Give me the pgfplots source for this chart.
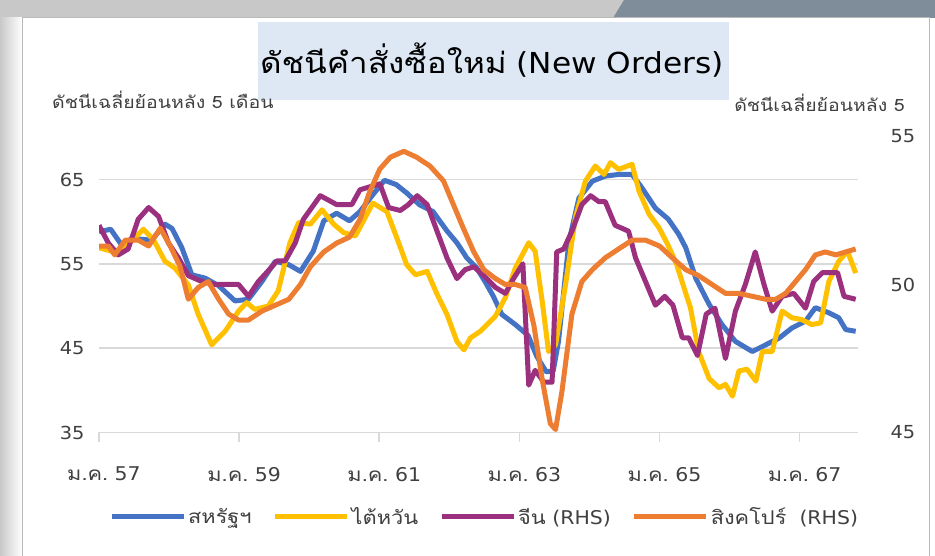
\documentclass[border=0pt]{standalone}
\usepackage{pgfplots}
\usepackage{pgfplotstable}
\pgfplotsset{compat=1.18}
\usepackage{fontspec}
\setmainfont[FakeStretch=1.08]{DejaVu Sans}
\newfontfamily\thai[Script=Thai, FakeStretch=1.15]{Loma}
\definecolor{cblue}{HTML}{4472C4}
\definecolor{cyellow}{HTML}{FFC000}
\definecolor{cpurple}{HTML}{9B307F}
\definecolor{corange}{HTML}{ED7D31}
\definecolor{gridc}{HTML}{D9D9D9}
\definecolor{txt}{HTML}{404040}
\definecolor{titlebg}{HTML}{DDE8F4}
\definecolor{frameg}{HTML}{C8C8C8}
\definecolor{slate}{HTML}{7F8C99}

% US (left axis)
\pgfplotstableread{
m v
0 58.8
2 59.1
3.9 57.2
5.6 58.0
7.5 57.9
9 57.8
11.3 59.7
12.5 59.2
14.2 56.9
15.9 53.7
18.2 53.3
20.5 52.4
23.3 50.6
25.6 50.8
27.9 52.9
30.2 55.3
32.5 54.9
34.5 54.1
36.7 56.5
38.5 60.1
40.7 61.0
42.9 60.1
44.7 61.2
46.9 63.2
48.9 64.9
50.9 64.4
52.7 63.4
54.9 62.0
57.2 61.2
59.6 58.9
61.3 57.5
63.0 55.7
64.7 54.5
66.2 52.8
67.5 51.2
69 49.0
71.3 47.8
73.5 46.5
75 44.0
76.6 42.2
77.8 42.3
78.7 45.8
80.5 57.7
82.2 62.8
84.5 64.8
86.7 65.4
89 65.6
91.3 65.6
93 64.0
95.3 61.6
97.5 60.3
99.3 58.5
100.5 56.9
102.2 53.3
104.5 50.2
106.7 47.8
109 45.8
111.9 44.6
114.2 45.4
116.5 46.2
118.7 47.4
121 48.2
122.7 49.8
125 49.2
126.7 48.6
127.9 47.2
129.6 47.0
}\usdata

% Taiwan (left axis)
\pgfplotstableread{
m v
0 56.9
2.2 56.5
3.9 56.7
5.6 57.7
7.6 59.1
9.3 57.9
11.3 55.3
13 54.5
15.3 52.5
17 49.0
19.3 45.4
21.6 47.0
23.9 49.4
25.3 50.4
26.7 49.6
29 50.0
30.7 51.8
32.7 57.5
34.2 59.9
36.2 59.7
38.2 61.4
40.2 59.7
41.9 58.7
43.9 58.3
45.3 60.1
46.9 62.2
49.3 61.2
51 58.1
52.7 54.9
54.2 53.7
56.2 54.1
57.9 51.4
59.6 49.0
61.3 45.8
62.5 44.8
63.6 46.2
65.3 47.0
67.9 48.8
69.6 51.0
71.3 54.5
73.6 57.5
74.7 56.5
75.9 50.6
77 44.6
78.2 45.4
79.9 52.5
81.6 60.5
83.3 64.8
85 66.6
86.5 65.6
87.6 67.0
89 66.2
91.3 66.8
92.5 63.6
94.2 60.9
95.9 59.3
97.4 57.3
98.9 55.0
100.5 51.5
101.3 49.8
102.7 44.6
104.5 41.4
106.2 40.3
107.3 40.7
108.5 39.3
109.6 42.3
111 42.5
112.5 41.1
113.6 44.6
115.3 44.6
117 49.4
118.7 48.6
120.3 48.4
122.1 47.8
123.6 48.0
125 52.9
126.7 55.3
128.2 56.5
129.6 53.9
}\twdata

% China (right axis)
\pgfplotstableread{
m v
0 52.0
1.6 51.4
3.3 51.0
5 51.2
6.7 52.2
8.5 52.6
10.2 52.3
11.9 51.4
13.6 50.9
15.3 50.3
17.6 50.1
19.9 50.0
22.2 50.0
23.9 50.0
25.6 49.6
27.3 50.1
28.7 50.4
30.5 50.8
31.9 50.8
33.6 51.4
35 52.2
37.9 53.0
40.7 52.7
43.3 52.7
44.7 53.2
46.4 53.3
48.1 53.4
49.6 52.6
51.6 52.5
53 52.7
54.5 53.0
56.2 52.7
57.9 51.8
59.6 50.9
61.3 50.2
62.7 50.5
64.2 50.6
65.9 50.3
67.9 49.9
69.6 49.7
71 50.2
72.6 50.7
73.6 46.6
74.7 47.1
76.2 46.7
77.6 46.7
78.4 51.1
79.6 51.2
81 51.8
82.7 52.7
84.2 53.0
85.6 52.8
86.7 52.8
88.4 52.0
90.7 51.8
91.9 50.9
93.6 50.1
95.3 49.3
96.9 49.6
98.3 49.3
99.9 48.2
101 48.2
102.5 47.6
104 49.0
105.5 49.2
107.3 47.5
109 49.1
110.7 50.0
112.4 51.1
113.9 50.0
115.3 49.1
117 49.6
119 49.7
121 49.2
122.4 50.1
123.9 50.4
126.5 50.4
127.6 49.6
129.6 49.5
}\cndata

% Singapore (right axis)
\pgfplotstableread{
m v
0 51.3
1.6 51.3
2.7 51.0
4.5 51.5
6.7 51.5
8.5 51.3
10.5 51.9
12.2 51.3
13.9 50.6
15.3 49.5
17 49.9
18.7 50.1
20.5 49.5
22.2 49.0
23.9 48.8
25.6 48.8
27.9 49.1
30.2 49.3
32.5 49.5
34.5 50.0
36.2 50.6
38.5 51.1
40.7 51.4
42.9 51.6
44.7 52.2
46.3 53.1
48.1 53.9
49.9 54.3
52.2 54.5
54.4 54.3
56.7 54.0
59 53.5
60.7 52.7
62.4 51.9
64.2 51.1
65.9 50.5
67.9 50.2
69.6 50.0
71.3 50.0
73 49.9
74.5 48.6
75.9 46.8
77.3 45.3
78.2 45.1
79.3 46.4
81 49.0
82.7 50.1
84.5 50.5
86.7 50.9
89 51.2
91.3 51.5
93.6 51.5
96 51.3
98.2 50.9
100.5 50.5
102.7 50.3
105 50.0
107.3 49.7
109.6 49.7
111.9 49.6
114.2 49.5
115.9 49.5
117.6 49.7
119.3 50.1
121 50.5
122.7 51.0
124.4 51.1
126.2 51.0
127.9 51.1
129.6 51.2
}\sgdata

\begin{document}
\begin{tikzpicture}[x=1bp,y=1bp]
\useasboundingbox (0,0) rectangle (935,556);
\fill[white] (0,0) rectangle (935,556);
\fill[frameg] (0,538) rectangle (935,556);
\fill[slate] (613,538) -- (624,556) -- (935,556) -- (935,538) -- cycle;
\shade[left color=frameg, right color=white] (0,0) rectangle (22,538);
\draw[gray!55, line width=1bp] (22,0) -- (22,538) -- (929,538) -- (929,0);
\fill[titlebg] (258,456) rectangle (729,534);
\node[font=\fontsize{29}{30}\selectfont, text=black] at (492,496) {{\thai ดัชนีคำสั่งซื้อใหม่} (New Orders)};
\node[anchor=west, text=txt, font=\fontsize{17}{18}\selectfont\thai, inner sep=0pt] at (52,456) {ดัชนีเฉลี่ยย้อนหลัง 5 เดือน};
\node[anchor=east, text=txt, font=\fontsize{17}{18}\selectfont\thai, inner sep=0pt] at (905,453) {ดัชนีเฉลี่ยย้อนหลัง 5};

\begin{axis}[
  at={(99bp,123.5bp)}, anchor=south west, scale only axis,
  width=759bp, height=296bp,
  xmin=0, xmax=130, ymin=35, ymax=70.1,
  axis x line*=bottom, axis y line*=left,
  y axis line style={draw=none},
  x axis line style={draw=gridc, line width=1.6bp, -},
  xtick={0,24,48,72,96,120},
  xticklabels={{\thai ม.ค.}~57,{\thai ม.ค.}~59,{\thai ม.ค.}~61,{\thai ม.ค.}~63,{\thai ม.ค.}~65,{\thai ม.ค.}~67},
  ytick={35,45,55,65},
  ymajorgrids, grid style={draw=gridc, line width=1.8bp},
  xtick style={draw=gridc, line width=1.6bp},
  ytick style={draw=none},
  tick align=outside, major tick length=10bp,
  tick label style={text=txt, font=\fontsize{18}{18}\selectfont},
  /pgf/number format/assume math mode=true,
  yticklabel style={xshift=-1bp},
  xticklabel style={yshift=-21bp, font=\fontsize{19}{19}\selectfont, xshift=5bp},
  every axis plot/.append style={line width=5bp, line join=round},
]
\addplot[cblue, no marks] table[x=m,y=v] {\usdata};
\addplot[cyellow, no marks] table[x=m,y=v] {\twdata};
\end{axis}

\begin{axis}[
  at={(99bp,123.5bp)}, anchor=south west, scale only axis,
  width=759bp, height=296bp,
  xmin=0, xmax=130, ymin=45, ymax=55,
  axis x line=none, axis y line*=right,
  y axis line style={draw=none}, ytick style={draw=none},
  ytick={45,50,55},
  tick label style={text=txt, font=\fontsize{18}{18}\selectfont},
  /pgf/number format/assume math mode=true,
  yticklabel style={xshift=29bp},
  every axis plot/.append style={line width=5bp, line join=round},
  legend style={at={(0.508,-0.285)}, anchor=center, draw=none, fill=none,
    legend columns=4, font=\fontsize{19}{19}\selectfont, text=txt,
    /tikz/every even column/.append style={column sep=19bp}},
  legend image code/.code={\draw[#1] (0bp,0bp) -- (72bp,0bp);},
]
\addlegendimage{cblue, line width=5bp}
\addlegendentry{\thai สหรัฐฯ}
\addlegendimage{cyellow, line width=5bp}
\addlegendentry{\thai ไต้หวัน}
\addplot[cpurple, no marks] table[x=m,y=v] {\cndata};
\addlegendentry{{\thai จีน} (RHS)}
\addplot[corange, no marks] table[x=m,y=v] {\sgdata};
\addlegendentry{{\thai สิงคโปร์}\ \ (RHS)}
\end{axis}
\end{tikzpicture}
\end{document}
